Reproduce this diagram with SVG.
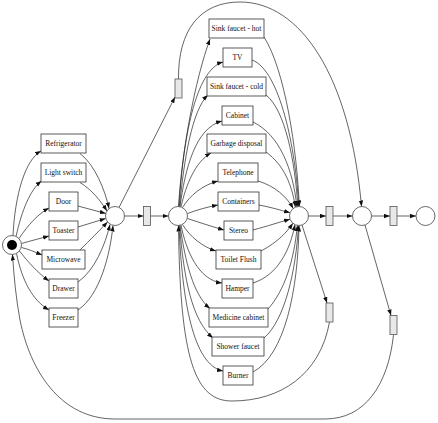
<svg xmlns="http://www.w3.org/2000/svg" width="438" height="423" viewBox="0 0 438 423">
<defs>
<marker id="ah" markerUnits="userSpaceOnUse" markerWidth="7" markerHeight="5" refX="6" refY="2.2" orient="auto">
<path d="M0,0 L6,2.2 L0,4.4 z" fill="#111"/>
</marker>
<style>
.e{fill:none;stroke:#222;stroke-width:0.7;marker-end:url(#ah)}
.b{fill:none;stroke:#222;stroke-width:0.7}
.box{fill:#fff;stroke:#333;stroke-width:0.8}
.tr{fill:#e8e8e8;stroke:#555;stroke-width:0.8}
.pl{fill:#fff;stroke:#444;stroke-width:0.8}
.t{font-family:"Liberation Serif","Times New Roman",serif;font-size:7.5px;fill:#111;text-anchor:middle;dominant-baseline:central}
</style>
</defs>
<rect width="438" height="423" fill="#fff"/>
<g id="connectors">
<!-- start -> left boxes -->
<path class="e" d="M13,235.5 C15,195 25,160 41,151"/>
<path class="e" d="M16,236.5 C22,210 30,190 41.5,181"/>
<path class="e" d="M19,238.5 C28,225 38,214 49,208"/>
<path class="e" d="M21.5,243.5 C30,241 40,238.5 49,236"/>
<path class="e" d="M21.5,247.5 C28,249 35,252 42,255"/>
<path class="e" d="M19.5,251 C28,262 38,273 49,281"/>
<path class="e" d="M16.5,253.5 C22,280 32,300 49,310"/>
<!-- left boxes -> P1 -->
<path class="e" d="M80,153.5 C95,165 105,190 109,208.5"/>
<path class="e" d="M80,182.5 C92,190 100,200 107,211"/>
<path class="e" d="M78,206 L105.8,213.5"/>
<path class="e" d="M78,227 L105.7,218.5"/>
<path class="e" d="M80,250 C90,240 100,230 107.5,222"/>
<path class="e" d="M78,282 C95,270 105,245 110,224.5"/>
<path class="e" d="M78,310 C100,295 110,255 113,225.5"/>
<!-- P1 -> T1 -> P2, P1 -> Ttop -->
<path class="e" d="M124.5,216 L143.5,216"/>
<path class="e" d="M150.5,216 L168.5,216"/>
<path class="e" d="M119,207.5 L175,97"/>
<path class="e" d="M178.5,79 C178,30 200,2 240,2 C300,2 350,75 361.5,206.5"/>
<!-- P2 -> middle boxes -->
<path class="e" d="M178.5,206.5 C182,150 195,80 210,39"/>
<path class="e" d="M179,206.5 C183,140 195,70 223,62"/>
<path class="e" d="M179.5,206.5 C184,160 192,110 208,95"/>
<path class="e" d="M180,206.6 C185,170 195,128 222,121"/>
<path class="e" d="M181,206.8 C186,185 195,162 211,153"/>
<path class="e" d="M182.5,207.5 C190,195 203,185 218,181"/>
<path class="e" d="M187.5,213.5 C197,210 207,207 218,205"/>
<path class="e" d="M187.5,218.5 C198,222 210,226 224,230"/>
<path class="e" d="M182.5,224.5 C190,237 203,247 216,251"/>
<path class="e" d="M181,225.2 C186,250 198,280 222,283"/>
<path class="e" d="M180,225.4 C185,260 193,295 210,308.5"/>
<path class="e" d="M179.5,225.5 C184,280 192,320 213,338"/>
<path class="e" d="M179,225.5 C182,300 193,365 223,371"/>
<!-- middle boxes -> P3 -->
<path class="e" d="M264,37 C285,70 297,150 299.3,206.5"/>
<path class="e" d="M252,60 C280,70 296,150 298.7,206.5"/>
<path class="e" d="M266,95 C285,110 295,160 297.8,206.6"/>
<path class="e" d="M253,122 C280,135 293,170 296.9,206.7"/>
<path class="e" d="M266,152 C284,165 292,185 295.4,207.2"/>
<path class="e" d="M258,181 C275,186 287,197 293.2,208.5"/>
<path class="e" d="M259,205 C270,207 280,210 290.1,212.8"/>
<path class="e" d="M253,230 C268,226 280,222 290.1,219.2"/>
<path class="e" d="M261,251 C278,242 287,232 292.9,223.3"/>
<path class="e" d="M253,283 C278,275 290,250 295,224.6"/>
<path class="e" d="M268,309 C285,290 294,260 297.4,225.4"/>
<path class="e" d="M264,338 C285,320 296,270 298.5,225.5"/>
<path class="e" d="M253,372 C285,355 298,290 299,225.5"/>
<!-- right chain -->
<path class="e" d="M308.5,216 L326,216"/>
<path class="e" d="M333,216 L352.5,216"/>
<path class="e" d="M371.5,216 L390,216"/>
<path class="e" d="M397,216 L416,216"/>
<path class="e" d="M302,225 L327,303"/>
<path class="e" d="M365,225 L391,315.5"/>
<!-- loops -->
<path class="e" d="M329.5,322 C320,375 280,401 232,401 C195,401 180,360 178.5,225.5"/>
<path class="e" d="M393.5,335 C388,385 365,419 325,419 L115,419 C60,419 30,370 20,320 C16,298 14,278 12.5,254.5"/>
</g>
<g id="start"><circle class="pl" cx="12" cy="245" r="9.5"/><circle cx="12" cy="245" r="5" fill="#000"/></g>
<g id="p1"><circle class="pl" cx="115" cy="216" r="9.5"/></g>
<g id="p2"><circle class="pl" cx="178" cy="216" r="9.5"/></g>
<g id="p3"><circle class="pl" cx="299" cy="216" r="9.5"/></g>
<g id="p4"><circle class="pl" cx="362" cy="216" r="9.5"/></g>
<g id="p5"><circle class="pl" cx="425.5" cy="216" r="9.5"/></g>
<g id="t_top"><rect class="tr" x="175" y="79" width="7" height="19"/></g>
<g id="t1"><rect class="tr" x="143.5" y="206.5" width="7" height="19"/></g>
<g id="t2"><rect class="tr" x="326" y="206.5" width="7" height="19"/></g>
<g id="t3"><rect class="tr" x="390" y="206.5" width="7" height="19"/></g>
<g id="t4"><rect class="tr" x="326" y="303" width="7" height="19"/></g>
<g id="t5"><rect class="tr" x="390" y="315.5" width="7" height="19"/></g>
<g id="refrigerator"><rect class="box" x="41" y="134" width="45" height="19"/><text class="t" x="63.5" y="143.5">Refrigerator</text></g>
<g id="light_switch"><rect class="box" x="41" y="163" width="45" height="19"/><text class="t" x="63.5" y="172.5">Light switch</text></g>
<g id="door"><rect class="box" x="49" y="192" width="29" height="19"/><text class="t" x="63.5" y="201.5">Door</text></g>
<g id="toaster"><rect class="box" x="49" y="221" width="29" height="19"/><text class="t" x="63.5" y="230.5">Toaster</text></g>
<g id="microwave"><rect class="box" x="42" y="250" width="43" height="19"/><text class="t" x="63.5" y="259.5">Microwave</text></g>
<g id="drawer"><rect class="box" x="49" y="279" width="29" height="19"/><text class="t" x="63.5" y="288.5">Drawer</text></g>
<g id="freezer"><rect class="box" x="49" y="308" width="29" height="19"/><text class="t" x="63.5" y="317.5">Freezer</text></g>
<g id="sink_hot"><rect class="box" x="209" y="19" width="55" height="19"/><text class="t" x="236.5" y="28.5">Sink faucet - hot</text></g>
<g id="tv"><rect class="box" x="223" y="48" width="29" height="19"/><text class="t" x="237.5" y="57.5">TV</text></g>
<g id="sink_cold"><rect class="box" x="207" y="77" width="59" height="19"/><text class="t" x="236.5" y="86.5">Sink faucet - cold</text></g>
<g id="cabinet"><rect class="box" x="222" y="106" width="31" height="19"/><text class="t" x="237.5" y="115.5">Cabinet</text></g>
<g id="garbage"><rect class="box" x="207" y="134" width="59" height="19"/><text class="t" x="236.5" y="143.5">Garbage disposal</text></g>
<g id="telephone"><rect class="box" x="218" y="163" width="40" height="19"/><text class="t" x="238" y="172.5">Telephone</text></g>
<g id="containers"><rect class="box" x="218" y="192" width="41" height="19"/><text class="t" x="238.5" y="201.5">Containers</text></g>
<g id="stereo"><rect class="box" x="224" y="221" width="29" height="19"/><text class="t" x="238.5" y="230.5">Stereo</text></g>
<g id="toilet"><rect class="box" x="216" y="250" width="45" height="19"/><text class="t" x="238.5" y="259.5">Toilet Flush</text></g>
<g id="hamper"><rect class="box" x="222" y="279" width="31" height="19"/><text class="t" x="237.5" y="288.5">Hamper</text></g>
<g id="medicine"><rect class="box" x="209" y="308" width="59" height="19"/><text class="t" x="238.5" y="317.5">Medicine cabinet</text></g>
<g id="shower"><rect class="box" x="212" y="337" width="52" height="19"/><text class="t" x="238" y="346.5">Shower faucet</text></g>
<g id="burner"><rect class="box" x="223" y="366" width="30" height="19"/><text class="t" x="238" y="375.5">Burner</text></g>
</svg>
